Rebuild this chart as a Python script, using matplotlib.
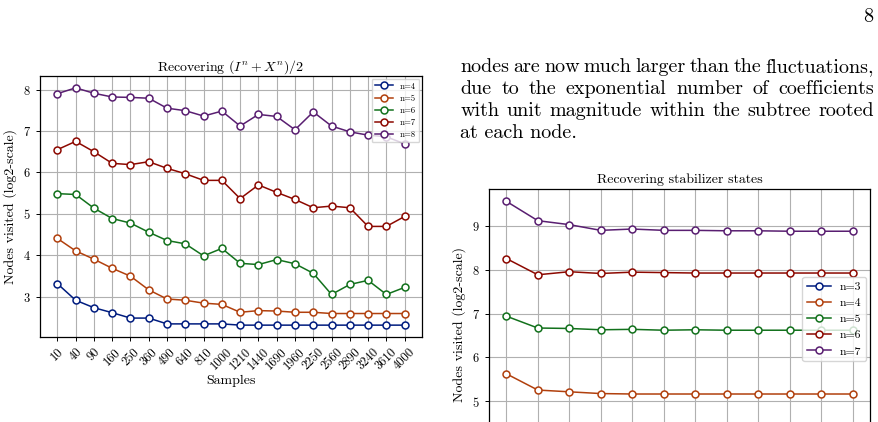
import numpy as np
import matplotlib
matplotlib.use('Agg')
import matplotlib.pyplot as plt

plt.rcParams['font.family'] = ['cmr10', 'DejaVu Serif']
plt.rcParams['mathtext.fontset'] = 'cm'
plt.rcParams['axes.formatter.use_mathtext'] = True
plt.rcParams['axes.unicode_minus'] = False

# seaborn "dark" palette
colors = ['#001c7f', '#b1400d', '#12711c', '#8c0800', '#591e71']

# left chart: Recovering (I^n + X^n)/2
samples = ['10', '40', '90', '160', '250', '360', '490', '640', '810', '1000',
           '1210', '1440', '1690', '1960', '2250', '2560', '2890', '3240', '3610', '4000']
left_labels = ['n=4', 'n=5', 'n=6', 'n=7', 'n=8']
left_n4 = [3.32, 2.92, 2.74, 2.62, 2.49, 2.49, 2.35, 2.35, 2.35, 2.35,
           2.32, 2.32, 2.32, 2.32, 2.32, 2.32, 2.32, 2.32, 2.32, 2.32]
left_n5 = [4.41, 4.11, 3.91, 3.69, 3.50, 3.17, 2.95, 2.92, 2.85, 2.82,
           2.63, 2.67, 2.66, 2.63, 2.63, 2.60, 2.60, 2.60, 2.60, 2.60]
left_n6 = [5.49, 5.47, 5.14, 4.89, 4.78, 4.56, 4.36, 4.28, 3.99, 4.17,
           3.81, 3.78, 3.90, 3.80, 3.57, 3.06, 3.30, 3.40, 3.06, 3.23]
left_n7 = [6.55, 6.75, 6.50, 6.22, 6.19, 6.26, 6.10, 5.97, 5.81, 5.81,
           5.37, 5.70, 5.52, 5.35, 5.15, 5.19, 5.15, 4.70, 4.70, 4.94]
left_n8 = [7.90, 8.04, 7.91, 7.82, 7.81, 7.79, 7.55, 7.49, 7.36, 7.48,
           7.12, 7.40, 7.35, 7.03, 7.46, 7.12, 6.98, 6.90, 6.86, 6.69]

# right chart: Recovering stabilizer states (its lower part is cut off in the page)
right_steps = ['1', '2', '3', '4', '5', '6', '7', '8', '9', '10', '11', '12']
right_labels = ['n=3', 'n=4', 'n=5', 'n=6', 'n=7']
right_n3 = [4.32, 4.02, 3.98, 3.95, 3.95, 3.95, 3.95, 3.95, 3.95, 3.95, 3.95, 3.95]
right_n4 = [5.63, 5.26, 5.22, 5.18, 5.17, 5.17, 5.17, 5.17, 5.17, 5.17, 5.17, 5.17]
right_n5 = [6.94, 6.67, 6.66, 6.63, 6.64, 6.62, 6.63, 6.62, 6.62, 6.62, 6.62, 6.62]
right_n6 = [8.25, 7.88, 7.95, 7.91, 7.94, 7.93, 7.92, 7.92, 7.92, 7.92, 7.92, 7.92]
right_n7 = [9.55, 9.11, 9.02, 8.89, 8.92, 8.89, 8.89, 8.88, 8.88, 8.87, 8.87, 8.87]

paragraph = ["nodes are now much larger than the fluctuations,",
             "due to the exponential number of coefficients",
             "with unit magnitude within the subtree rooted",
             "at each node."]

W, H = 879, 422
fig = plt.figure(figsize=(W / 100, H / 100), dpi=100)


def style_axes(ax):
    ax.grid(True, color='#b0b0b0', linewidth=0.8)
    ax.set_axisbelow(True)
    ax.tick_params(labelsize=9, length=3, width=0.7)
    for s in ax.spines.values():
        s.set_linewidth(0.9)


def draw_series(ax, series, labels, ms):
    x = np.arange(len(series[0]))
    for vals, lab, c in zip(series, labels, colors):
        ax.plot(x, vals, color=c, marker='o', markersize=ms, markerfacecolor='white',
                markeredgewidth=1.1, linewidth=1.1, label=lab)


# left axes
ax1 = fig.add_axes([40 / W, 1 - 337 / H, 382 / W, 261 / H])
draw_series(ax1, [left_n4, left_n5, left_n6, left_n7, left_n8], left_labels, 5)
style_axes(ax1)
ax1.set_xticks(np.arange(len(samples)))
ax1.set_xticklabels(samples, rotation=45)
ax1.set_yticks([3, 4, 5, 6, 7, 8])
ax1.set_title(r'Recovering $(I^n + X^n)/2$', fontsize=10, pad=4)
ax1.set_xlabel('Samples', fontsize=10, labelpad=2)
ax1.set_ylabel('Nodes visited (log2-scale)', fontsize=10)
ax1.legend(loc='upper right', fontsize=6.3, handlelength=2, borderpad=0.4,
           labelspacing=0.42, borderaxespad=0.3)

# right axes (bottom part falls outside the page crop)
ax2 = fig.add_axes([489 / W, 1 - 460 / H, 381 / W, 271 / H])
draw_series(ax2, [right_n3, right_n4, right_n5, right_n6, right_n7], right_labels, 5)
style_axes(ax2)
ax2.set_xticks(np.arange(len(right_steps)))
ax2.tick_params(axis='x', labelbottom=False)
ax2.set_yticks([5, 6, 7, 8, 9])
ax2.set_ylim(3.67, 9.83)
ax2.set_title('Recovering stabilizer states', fontsize=10, pad=4)
ax2.set_ylabel('Nodes visited (log2-scale)', fontsize=10)
ax2.legend(loc='center right', bbox_to_anchor=(1.0, 0.52), fontsize=8.5,
           handlelength=2, borderpad=0.4, labelspacing=0.5, borderaxespad=0.3)

# page number
fig.text(873 / W, 1 - 22 / H, '8', fontsize=14.5, ha='right', va='baseline')

# justified paragraph
x_left, x_right = 460.5, 874
baselines = [72.5, 94.3, 116, 137.7]
renderer = fig.canvas.get_renderer()
for i, (line, yb) in enumerate(zip(paragraph, baselines)):
    y = 1 - yb / H
    if i == len(paragraph) - 1:
        fig.text(x_left / W, y, line, fontsize=14.5, ha='left', va='baseline')
        continue
    words = line.split()
    txts = [fig.text(0, y, w, fontsize=14.5, ha='left', va='baseline') for w in words]
    widths = [t.get_window_extent(renderer).width for t in txts]
    gap = (x_right - x_left - sum(widths)) / (len(words) - 1)
    xpos = x_left
    for t, w in zip(txts, widths):
        t.set_x(xpos / W)
        xpos += w + gap

fig.savefig('out.png', dpi=100)
